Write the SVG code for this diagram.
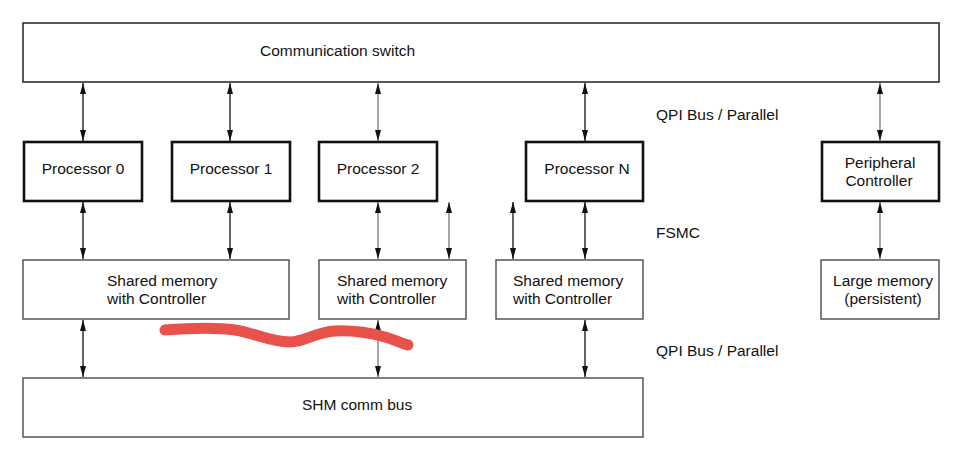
<svg xmlns="http://www.w3.org/2000/svg" width="963" height="461" viewBox="0 0 963 461">
<defs>
<style>
text{font-family:"Liberation Sans",Arial,sans-serif;font-size:15.5px;fill:#111}
.thin{fill:#fff;stroke:#555;stroke-width:1.5}
.thick{fill:#fff;stroke:#111;stroke-width:2.6}
.ln{stroke:#111;stroke-width:1.3;fill:none;marker-start:url(#ah);marker-end:url(#ah)}
.gr{stroke:#777}
.c{text-anchor:middle}
</style>
<marker id="ah" markerUnits="userSpaceOnUse" markerWidth="12" markerHeight="7" refX="11" refY="3" orient="auto-start-reverse" viewBox="0 0 12 6">
<path d="M0,0 L11,3 L0,6 z" fill="#111"/>
</marker>
</defs>
<rect width="963" height="461" fill="#fff"/>
<g id="comm-switch"><rect class="thin" x="23" y="23" width="916" height="59" style="stroke:#222"/><text x="260" y="56">Communication switch</text></g>
<g id="proc0"><rect class="thick" x="24" y="142" width="118" height="59"/><text class="c" x="83" y="174">Processor 0</text></g>
<g id="proc1"><rect class="thick" x="172" y="142" width="118" height="59"/><text class="c" x="231" y="174">Processor 1</text></g>
<g id="proc2"><rect class="thick" x="319" y="142" width="118" height="59"/><text class="c" x="378" y="174">Processor 2</text></g>
<g id="procN"><rect class="thick" x="526" y="142" width="117" height="59"/><text class="c" x="587" y="174">Processor N</text></g>
<g id="periph"><rect class="thick" x="822" y="142" width="117" height="59"/><text class="c" x="880" y="168">Peripheral</text><text class="c" x="879" y="186">Controller</text></g>
<g id="shm1"><rect class="thin" x="23" y="260" width="266" height="59"/><text x="107" y="286">Shared memory</text><text x="107" y="304">with Controller</text></g>
<g id="shm2"><rect class="thin" x="319" y="260" width="147" height="59"/><text x="337" y="286">Shared memory</text><text x="337" y="304">with Controller</text></g>
<g id="shm3"><rect class="thin" x="496" y="260" width="147" height="59"/><text x="513" y="286">Shared memory</text><text x="513" y="304">with Controller</text></g>
<g id="large-mem"><rect class="thin" x="821" y="260" width="118" height="59"/><text class="c" x="883" y="286">Large memory</text><text class="c" x="883" y="304">(persistent)</text></g>
<g id="shm-bus"><rect class="thin" x="23" y="378" width="620" height="59"/><text x="302" y="410">SHM comm bus</text></g>
<g id="labels">
<text x="656" y="120">QPI Bus / Parallel</text>
<text x="656" y="238">FSMC</text>
<text x="656" y="356">QPI Bus / Parallel</text>
</g>
<g id="connectors">
<line class="ln" x1="83" y1="83" x2="83" y2="141"/>
<line class="ln" x1="230" y1="83" x2="230" y2="141"/>
<line class="ln gr" x1="378" y1="83" x2="378" y2="141"/>
<line class="ln" x1="585" y1="83" x2="585" y2="141"/>
<line class="ln gr" x1="880" y1="83" x2="880" y2="141"/>
<line class="ln" x1="83" y1="202" x2="83" y2="259"/>
<line class="ln" x1="230" y1="202" x2="230" y2="259"/>
<line class="ln gr" x1="378" y1="202" x2="378" y2="259"/>
<line class="ln gr" x1="449" y1="202" x2="449" y2="259"/>
<line class="ln" x1="513" y1="202" x2="513" y2="259"/>
<line class="ln" x1="585" y1="202" x2="585" y2="259"/>
<line class="ln gr" x1="880" y1="202" x2="880" y2="259"/>
<line class="ln" x1="83" y1="320" x2="83" y2="377"/>
<line class="ln gr" x1="378" y1="320" x2="378" y2="377"/>
<line class="ln" x1="585" y1="320" x2="585" y2="377"/>
</g>
<path id="scribble" d="M165,330 C190,328 215,327 235,330 C255,333 270,342 290,342 C305,342 315,332 335,331 C355,330 370,333 385,337 C395,340 403,344 408,345" fill="none" stroke="#e8524a" stroke-width="11" stroke-linecap="round"/>
</svg>
